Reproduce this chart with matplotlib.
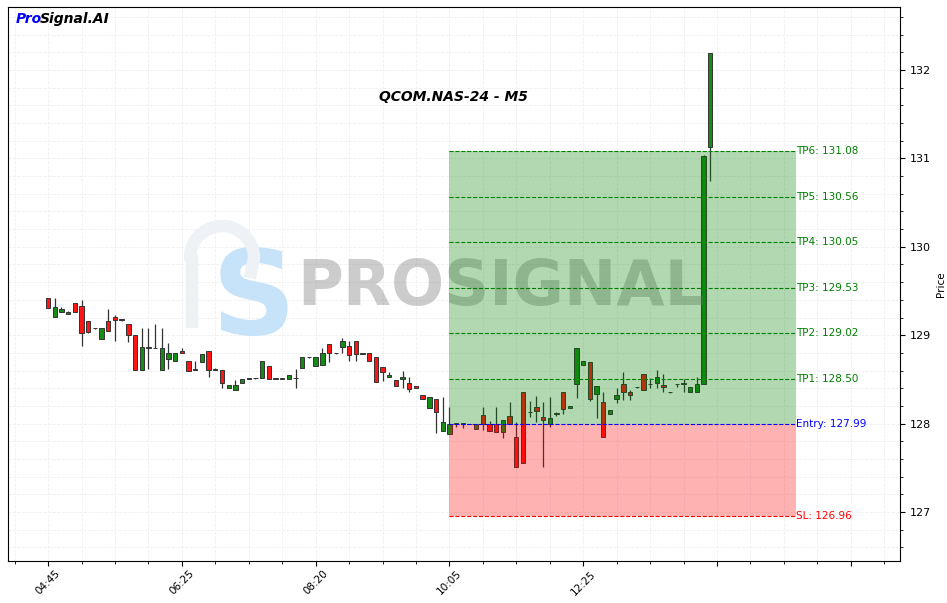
import numpy as np
import matplotlib
matplotlib.use("Agg")
import matplotlib.pyplot as plt
from matplotlib.ticker import MultipleLocator, FixedLocator

# M5 candles (index based x axis)
opens = [129.417, 129.21, 129.266, 129.236, 129.36, 129.326, 129.156, 129.077, 128.953, 129.156,
         129.202, 129.175, 129.123, 128.998, 128.602, 128.86, 128.851, 128.602, 128.727, 128.704,
         128.821, 128.708, 128.606, 128.693, 128.821, 128.61, 128.606, 128.406, 128.376, 128.455,
         128.505, 128.512, 128.512, 128.652, 128.505, 128.512, 128.501, 128.512, 128.625, 128.75,
         128.648, 128.659, 128.897, 128.795, 128.863, 128.874, 128.931, 128.788, 128.795, 128.75,
         128.637, 128.524, 128.49, 128.501, 128.456, 128.422, 128.32, 128.173, 128.275, 127.92,
         127.886, 127.995, 127.995, 127.992, 127.943, 128.094, 127.996, 127.996, 127.901, 128.082,
         127.849, 128.354, 128.128, 128.184, 128.071, 127.992, 128.109, 128.354, 128.173, 128.444,
         128.659, 128.693, 128.339, 128.241, 128.105, 128.275, 128.444, 128.354, 128.41, 128.557,
         128.444, 128.456, 128.433, 128.354, 128.447, 128.456, 128.354, 128.354, 128.448, 131.125]
closes = [129.311, 129.315, 129.292, 129.262, 129.258, 129.021, 129.04, 129.077, 129.077, 129.043,
          129.175, 129.17, 128.998, 128.602, 128.862, 128.86, 128.851, 128.851, 128.794, 128.794,
          128.794, 128.598, 128.606, 128.783, 128.602, 128.61, 128.455, 128.433, 128.436, 128.5,
          128.505, 128.512, 128.708, 128.501, 128.505, 128.5, 128.546, 128.512, 128.75, 128.75,
          128.75, 128.795, 128.795, 128.795, 128.931, 128.772, 128.784, 128.788, 128.704, 128.467,
          128.58, 128.546, 128.422, 128.524, 128.388, 128.399, 128.275, 128.297, 128.135, 128.015,
          127.992, 127.995, 127.995, 127.992, 127.999, 127.992, 127.92, 127.909, 128.037, 128.0,
          127.505, 127.551, 128.128, 128.139, 128.037, 128.06, 128.109, 128.162, 128.203, 128.852,
          128.705, 128.275, 128.422, 127.852, 128.15, 128.32, 128.354, 128.32, 128.41, 128.384,
          128.444, 128.524, 128.41, 128.354, 128.444, 128.444, 128.41, 128.444, 131.027, 132.189]
highs = [129.417, 129.417, 129.315, 129.273, 129.36, 129.398, 129.156, 129.08, 129.077, 129.292,
         129.228, 129.18, 129.123, 128.998, 129.085, 129.077, 129.123, 129.085, 128.908, 128.794,
         128.851, 128.708, 128.708, 128.783, 128.821, 128.625, 128.606, 128.44, 128.493, 128.5,
         128.51, 128.515, 128.708, 128.652, 128.51, 128.515, 128.546, 128.614, 128.75, 128.755,
         128.75, 128.852, 128.897, 128.8, 128.965, 128.931, 128.931, 128.79, 128.795, 128.75,
         128.637, 128.58, 128.49, 128.591, 128.524, 128.422, 128.32, 128.297, 128.275, 128.297,
         128.184, 128.01, 128.0, 127.995, 127.999, 128.184, 128.033, 128.184, 128.037, 128.241,
         128.015, 128.354, 128.256, 128.312, 128.241, 128.297, 128.13, 128.354, 128.203, 128.852,
         128.705, 128.693, 128.422, 128.354, 128.15, 128.399, 128.58, 128.376, 128.413, 128.557,
         128.512, 128.603, 128.557, 128.357, 128.447, 128.501, 128.41, 128.524, 131.038, 132.19]
lows = [129.311, 129.21, 129.266, 129.236, 129.258, 128.877, 129.021, 129.075, 128.953, 129.043,
        128.93, 129.165, 128.923, 128.602, 128.602, 128.613, 128.851, 128.602, 128.613, 128.704,
        128.794, 128.598, 128.606, 128.693, 128.53, 128.605, 128.398, 128.40, 128.376, 128.455,
        128.50, 128.51, 128.512, 128.501, 128.5, 128.5, 128.501, 128.399, 128.625, 128.745,
        128.648, 128.659, 128.693, 128.79, 128.795, 128.704, 128.704, 128.785, 128.704, 128.467,
        128.478, 128.524, 128.422, 128.399, 128.354, 128.399, 128.275, 128.173, 127.89, 127.92,
        127.886, 127.966, 127.947, 127.99, 127.943, 127.928, 127.92, 127.909, 127.834, 128.0,
        127.505, 127.551, 128.079, 128.015, 127.505, 127.966, 128.09, 128.109, 128.173, 128.286,
        128.659, 128.252, 128.06, 127.852, 128.105, 128.229, 128.267, 128.267, 128.407, 128.384,
        128.399, 128.399, 128.361, 128.351, 128.41, 128.354, 128.354, 128.354, 128.448, 130.748]

tick_pos = [0, 20, 40, 60, 80, 100, 120]
tick_labels = ["04:45", "06:25", "08:20", "10:05", "12:25", "", ""]

entry = 127.99
stop_loss = 126.96
tp_levels = [128.50, 129.02, 129.53, 130.05, 130.56, 131.08]
zone_start, zone_end = 60, 111.8

fig = plt.figure(figsize=(9.47, 6.03), dpi=100)
ax = fig.add_axes([0.0084, 0.0697, 0.9419, 0.9187])

x = np.arange(len(opens))
o = np.array(opens)
c = np.array(closes)
up = c >= o
colors = np.where(up, "#158c15", "#ff1515")
body_h = np.maximum(np.abs(c - o), 0.008)
body_b = np.minimum(o, c)

ax.vlines(x, lows, highs, color="#333333", linewidth=0.9, zorder=3)
ax.bar(x, body_h, bottom=body_b, width=0.65, color=colors, edgecolor="#333333",
       linewidth=0.7, zorder=4)

# trade zone (drawn on top of candles)
ax.fill_between([zone_start, zone_end], entry, tp_levels[-1], color="green", alpha=0.3,
                linewidth=0, zorder=5)
ax.fill_between([zone_start, zone_end], stop_loss, entry, color="red", alpha=0.3,
                linewidth=0, zorder=5)

for i, lvl in enumerate(tp_levels):
    ax.hlines(lvl, zone_start, zone_end, colors="green", linestyles="--", linewidth=0.8, zorder=6)
    ax.text(zone_end, lvl, f"TP{i + 1}: {lvl:.2f}", color="green", fontsize=7.5,
            va="center", ha="left", zorder=7)
ax.hlines(entry, zone_start, zone_end, colors="blue", linestyles="--", linewidth=0.8, zorder=6)
ax.text(zone_end, entry, f"Entry: {entry:.2f}", color="blue", fontsize=7.5, va="center", ha="left")
ax.hlines(stop_loss, zone_start, zone_end, colors="red", linestyles="--", linewidth=0.8, zorder=6)
ax.text(zone_end, stop_loss, f"SL: {stop_loss:.2f}", color="red", fontsize=7.5, va="center", ha="left")

ax.set_xlim(-6, 127.35)
ax.set_ylim(126.446, 132.713)

ax.xaxis.set_major_locator(FixedLocator(tick_pos))
ax.set_xticklabels(tick_labels, rotation=45, fontsize=7.5)
ax.xaxis.set_minor_locator(MultipleLocator(5))
ax.yaxis.set_major_locator(MultipleLocator(1))
ax.yaxis.set_minor_locator(MultipleLocator(0.2))
ax.yaxis.tick_right()
ax.yaxis.set_label_position("right")
ax.tick_params(axis="y", labelsize=8)
ax.tick_params(axis="x", pad=2)
ax.set_ylabel("Price", fontsize=7.5)
ax.grid(which="both", linestyle="--", color="#efefef", linewidth=0.6, zorder=0)
ax.set_axisbelow(True)

# watermark + logo
ax.text(0.553, 0.492, "PROSIGNAL", transform=ax.transAxes, fontsize=45, fontweight="bold",
        color="gray", alpha=0.4, ha="center", va="center", zorder=4.5)
ax.text(0.275, 0.468, "S", transform=ax.transAxes, fontsize=84, fontweight="bold",
        color="#c6e3fa", ha="center", va="center", zorder=1)
t = np.linspace(np.pi, 0, 40)
px = np.concatenate([[192, 192], 222 + 32 * np.cos(t), [250]])
py = np.concatenate([[328, 258], 258 - 32 * np.sin(t), [278]])
fig.add_artist(plt.Line2D(px / 947, 1 - py / 603, color="#eef2f7", linewidth=9,
                          solid_capstyle="butt", zorder=1))

ax.text(0.499, 0.838, "QCOM.NAS-24 - M5", transform=ax.transAxes, fontsize=10,
        fontweight="bold", fontstyle="italic", ha="center", va="center", zorder=8)
pro = fig.text(16 / 947, 1 - 19 / 603, "Pro", color="blue", fontsize=10, fontweight="bold",
               fontstyle="italic", va="center", ha="left")
fig.canvas.draw()
bb = pro.get_window_extent()
fig.text(bb.x1 / 947 - 0.002, 1 - 19 / 603, "Signal.AI", color="black", fontsize=10,
         fontweight="bold", fontstyle="italic", va="center", ha="left")

fig.savefig("out.png", dpi=100)
